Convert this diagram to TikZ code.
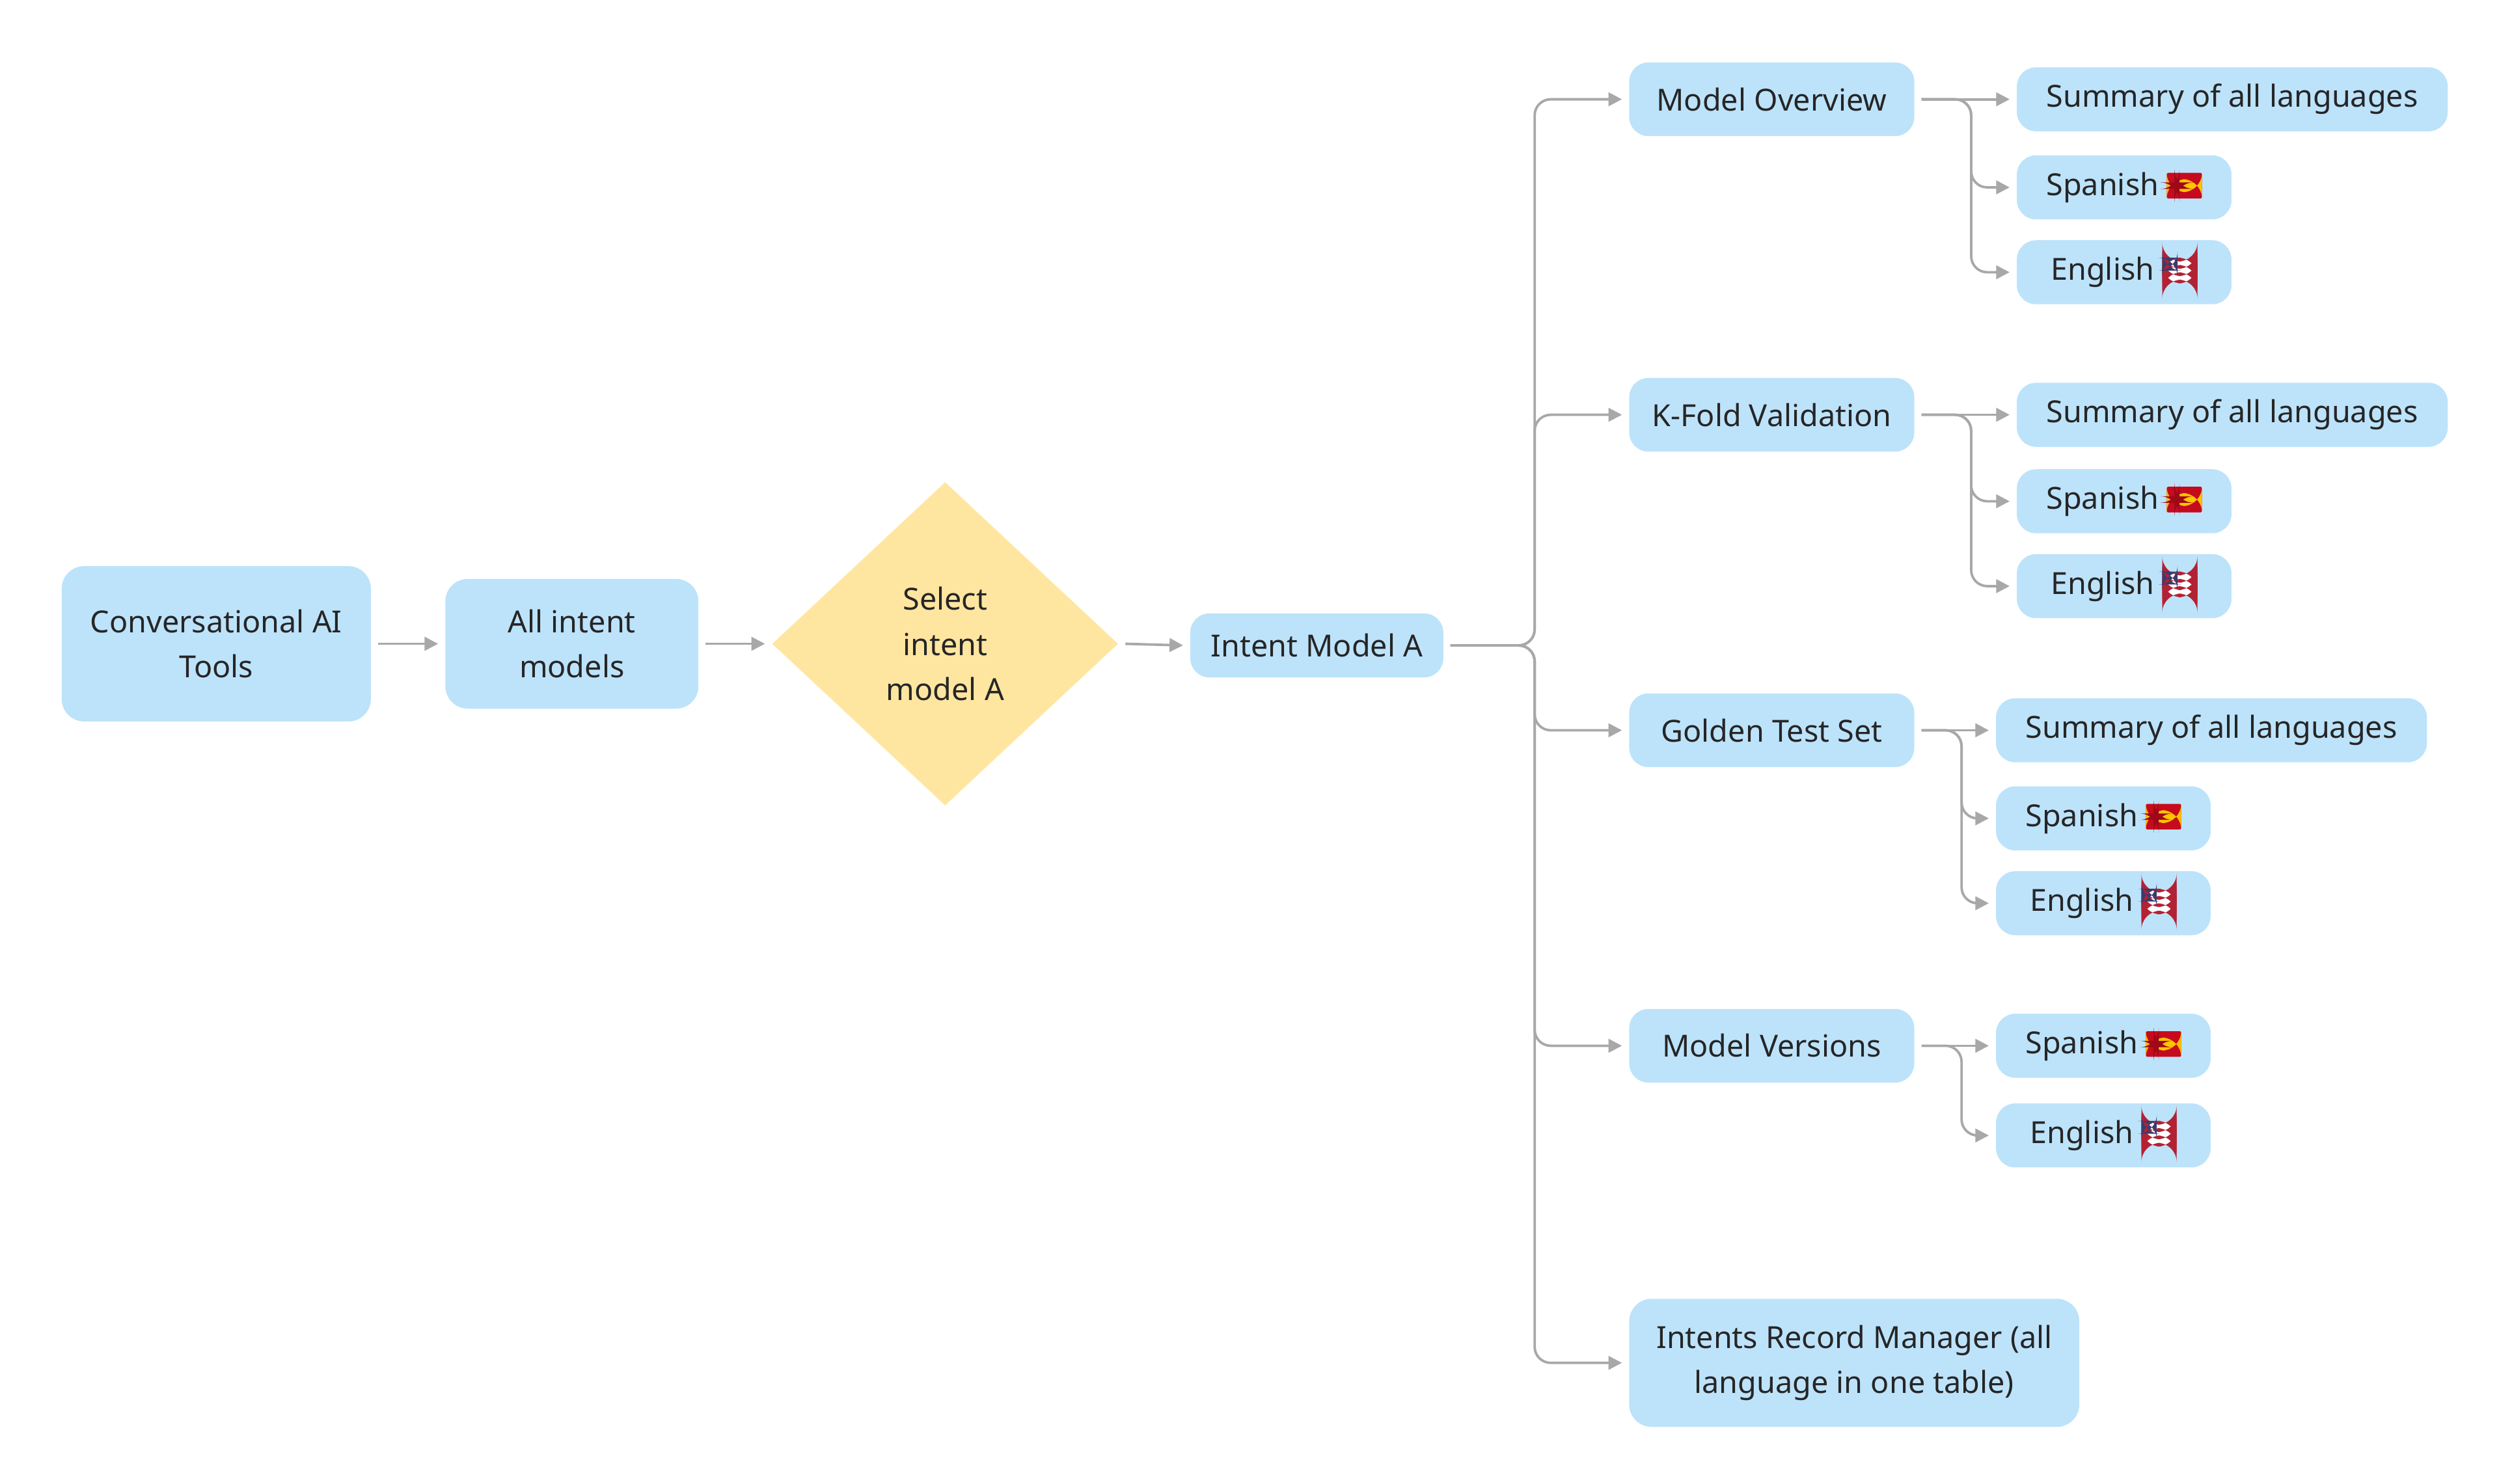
\documentclass[tikz,border=0pt]{standalone}
\usepackage{fontspec}
\setmainfont{Noto Sans}
\usetikzlibrary{shapes.geometric,arrows.meta}
\definecolor{bx}{HTML}{BDE3FB}
\definecolor{dm}{HTML}{FFE6A0}
\definecolor{ln}{HTML}{A8A8A8}
\definecolor{fr}{HTML}{C60B1E}
\definecolor{fy}{HTML}{FFC400}
\definecolor{ub}{HTML}{3C3B6E}
\definecolor{ur}{HTML}{B22234}
\newcommand{\flagES}{\raisebox{-0.05cm}{\tikz[x=1cm,y=1cm]{\fill[fr,rounded corners=0.5pt](0,0) rectangle (0.55,0.4);\fill[fy](0,0.1) rectangle (0.55,0.3);\fill[fr!80!black](0.12,0.15) rectangle (0.2,0.25);}}}
\newcommand{\flagUS}{\raisebox{-0.05cm}{\tikz[x=1cm,y=1cm]{\fill[white](0,0) rectangle (0.55,0.4);\foreach \i in {0,2,4,6}{\fill[ur](0,\i*0.0571) rectangle (0.55,\i*0.0571+0.0571);}\fill[ub](0,0.2) rectangle (0.24,0.4);}}}
\begin{document}
\begin{tikzpicture}[x=0.025cm,y=-0.025cm,
  every node/.style={font=\fontsize{13.5}{20}\selectfont, text=black!85},
  box/.style={fill=bx,rounded corners=0.35cm,align=center,inner sep=0pt},
  arr/.style={draw=ln,line width=1.1pt,-{Triangle[length=6pt,width=6pt]}},
  br/.style={arr,rounded corners=0.25cm}]
\useasboundingbox (0,0) rectangle (1560,926.6);
\node[box,minimum width=193*0.025cm,minimum height=97*0.025cm] (cai) at (135,402) {Conversational AI\\Tools};
\node[box,minimum width=158*0.025cm,minimum height=81*0.025cm] (all) at (357,402) {All intent\\models};
\node[diamond,fill=dm,minimum width=216*0.025cm,minimum height=202*0.025cm,inner sep=0pt,align=center] (sel) at (590,402) {Select\\intent\\model A};
\node[box,minimum width=158*0.025cm,minimum height=40*0.025cm,rounded corners=0.3cm] (ima) at (822,403) {Intent Model A};
\tikzset{l2/.style={box,minimum width=178*0.025cm,minimum height=46*0.025cm,rounded corners=0.3cm},
 sm/.style={box,minimum width=269*0.025cm,minimum height=40*0.025cm,rounded corners=0.3cm},
 lg/.style={box,minimum width=134*0.025cm,minimum height=40*0.025cm,rounded corners=0.3cm}}
\node[l2] (mo) at (1106,62) {Model Overview};
\node[l2] (kf) at (1106,259) {K-Fold Validation};
\node[l2] (gt) at (1106,456) {Golden Test Set};
\node[l2] (mv) at (1106,653) {Model Versions};
\node[box,minimum width=281*0.025cm,minimum height=80*0.025cm] (irm) at (1157.5,851) {Intents Record Manager (all\\language in one table)};
\node[sm] (mos) at (1393.5,62) {Summary of all languages};
\node[lg] (moe) at (1326,117) {Spanish \flagES};
\node[lg] (mon) at (1326,170) {English \flagUS};
\node[sm] (kfs) at (1393.5,259) {Summary of all languages};
\node[lg] (kfe) at (1326,313) {Spanish \flagES};
\node[lg] (kfn) at (1326,366) {English \flagUS};
\node[sm] (gts) at (1380.5,456) {Summary of all languages};
\node[lg] (gte) at (1313,511) {Spanish \flagES};
\node[lg] (gtn) at (1313,564) {English \flagUS};
\node[lg] (mve) at (1313,653) {Spanish \flagES};
\node[lg] (mvn) at (1313,709) {English \flagUS};
\draw[arr] ([xshift=3pt]cai.east) -- ([xshift=-3pt]all.west);
\draw[arr] ([xshift=3pt]all.east) -- ([xshift=-3pt]sel.west);
\draw[arr] ([xshift=3pt]sel.east) -- ([xshift=-3pt]ima.west);
\coordinate (tr) at (958,403);
\foreach \t in {mo,kf,gt,mv,irm}{\draw[br] ([xshift=3pt]ima.east) -- (tr) |- ([xshift=-3pt]\t.west);}
\foreach \a/\s/\e/\n/\d in {mo/mos/moe/mon/31,kf/kfs/kfe/kfn/31,gt/gts/gte/gtn/25}{
  \draw[arr] ([xshift=3pt]\a.east) -- ([xshift=-3pt]\s.west);
  \draw[br] ([xshift=3pt]\a.east) -- ++(\d,0) |- ([xshift=-3pt]\e.west);
  \draw[br] ([xshift=3pt]\a.east) -- ++(\d,0) |- ([xshift=-3pt]\n.west);}
\draw[arr] ([xshift=3pt]mv.east) -- ([xshift=-3pt]mve.west);
\draw[br] ([xshift=3pt]mv.east) -- ++(25,0) |- ([xshift=-3pt]mvn.west);
\end{tikzpicture}
\end{document}
